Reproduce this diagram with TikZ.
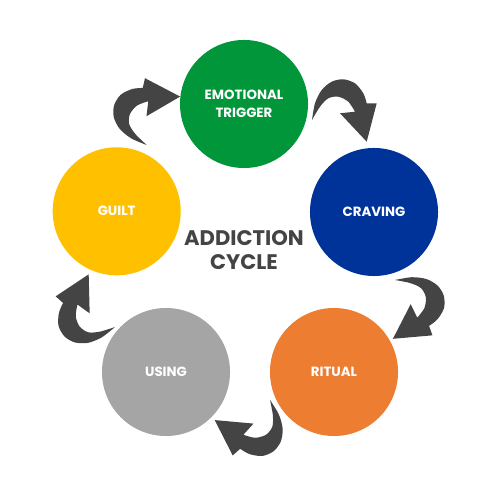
\documentclass[tikz,border=0pt]{standalone}
\usepackage{fontspec}
\setmainfont{Poppins}
\usepackage{tikz}
\usetikzlibrary{positioning}
\usepackage{xcolor}

\definecolor{trigcol}{HTML}{009639}
\definecolor{cravcol}{HTML}{00339A}
\definecolor{ritcol}{HTML}{ED7D31}
\definecolor{usecol}{HTML}{A5A5A5}
\definecolor{guiltcol}{HTML}{FFC000}
\definecolor{arrowgray}{HTML}{444444}

\tikzset{
    stage/.style={circle, minimum size=3.2cm, inner sep=0pt, text=white, align=center,
        font=\bfseries\fontsize{9.5}{12.8}\selectfont},
    cycle arrow/.pic={
        \fill[arrowgray] plot[smooth] coordinates {(0,0) (3,16.7) (9.7,30) (19.7,38.3) (31.3,40.7) (43,36.7) (51.3,26.7) (54.7,16.7)}
            -- (64.7,16.7) -- (54.7,-21.7) -- (28,6.7)
            -- plot[smooth] coordinates {(43,8.3) (36.3,18.3) (26.3,23.3) (16.3,21.7) (8,13.3) (0,0)} -- cycle;
    }
}

\begin{document}
\begin{tikzpicture}[x=0.025cm, y=0.025cm]
    \useasboundingbox (0,0) rectangle (500,500);

    % Stages of the cycle
    \node[stage, fill=trigcol] (trigger) at (244,396) {EMOTIONAL\\TRIGGER};
    \node[stage, fill=cravcol] (craving) at (374,288) {CRAVING};
    \node[stage, fill=ritcol] (ritual) at (334,128) {RITUAL};
    \node[stage, fill=usecol] (using) at (166,128) {USING};
    \node[stage, fill=guiltcol] (guilt) at (116.7,288.7) {GUILT};

    % Title in the middle
    \node[text=arrowgray, align=center, font=\bfseries\fontsize{15}{17}\selectfont] (title) at (244,250) {ADDICTION\\CYCLE};

    % Curved arrows between stages
    \pic[rotate=77] (guilt-trigger) at (146.7,355) {cycle arrow};
    \pic (trigger-craving) at (312,380) {cycle arrow};
    \pic[rotate=-70.4] (craving-ritual) at (395,220) {cycle arrow};
    \pic[rotate=-138.4] (ritual-using) at (270,100) {cycle arrow};
    \pic[rotate=138.2] (using-guilt) at (115,173) {cycle arrow};

\end{tikzpicture}
\end{document}
